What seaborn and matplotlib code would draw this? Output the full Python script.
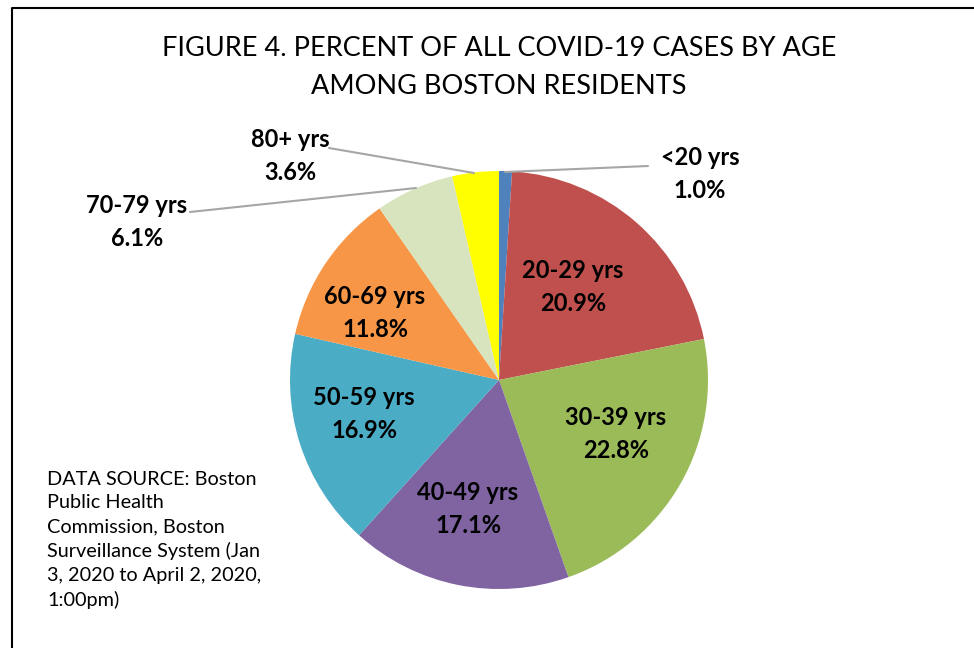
import matplotlib.pyplot as plt
import seaborn as sns

# Data
age_groups = ['<20 yrs', '20-29 yrs', '30-39 yrs', '40-49 yrs',
              '50-59 yrs', '60-69 yrs', '70-79 yrs', '80+ yrs']
percents = [1.0, 20.9, 22.8, 17.1, 16.9, 11.8, 6.1, 3.6]
colors = ['#4F81BD', '#C0504D', '#9BBB59', '#8064A2',
          '#4BACC6', '#F79646', '#D7E4BD', '#FFFF00']

sns.set_theme(style='white')
plt.rcParams['font.family'] = ['Lato', 'DejaVu Sans']

W, H = 974, 648
fig = plt.figure(figsize=(9.74, 6.48), dpi=100)
ax = fig.add_axes([0, 0, 1, 1])

# frame around the chart area
ax.plot([12, 12, W + 5], [H + 5, 8, 8], color='black', lw=1.5)

cx, cy, r = 499, 380, 209
# y axis is flipped below: start at -90 (screen top), counterclock in data = clockwise on screen
wedges, _ = ax.pie(percents, colors=colors, startangle=-90, counterclock=True,
                   center=(cx, cy), radius=r, frame=True,
                   wedgeprops={'linewidth': 0})
ax.set_xlim(0, W)
ax.set_ylim(H, 0)
ax.set_aspect('equal')
ax.axis('off')

# labels inside the pie
inside = {
    '20-29 yrs': (573, 287),
    '30-39 yrs': (616, 434),
    '40-49 yrs': (468, 509),
    '50-59 yrs': (364, 414),
    '60-69 yrs': (375, 313),
}
# outside labels with leader lines: text pos, line start, line end
outside = {
    '<20 yrs': ((700, 174), (648, 166), (505, 172)),
    '80+ yrs': ((290, 156), (329, 148), (474, 173)),
    '70-79 yrs': ((137, 222), (190, 212), (416, 188)),
}
for name, pct in zip(age_groups, percents):
    txt = f'{name}\n{pct:.1f}%'
    if name in inside:
        x, y = inside[name]
    else:
        (x, y), p0, p1 = outside[name]
        ax.plot([p0[0], p1[0]], [p0[1], p1[1]], color='#A6A6A6', lw=1.5)
    ax.text(x, y, txt, ha='center', va='center', fontsize=17,
            fontweight='bold', color='black', linespacing=1.5)

ax.text(499, 68, 'FIGURE 4. PERCENT OF ALL COVID-19 CASES BY AGE\nAMONG BOSTON RESIDENTS',
        ha='center', va='center', fontsize=19.5, color='black', linespacing=1.65)

ax.text(47, 540, 'DATA SOURCE: Boston\nPublic Health\nCommission, Boston\n'
        'Surveillance System (Jan\n3, 2020 to April 2, 2020,\n1:00pm)',
        ha='left', va='center', fontsize=14.3, color='black', linespacing=1.48)

fig.savefig('out.png', dpi=100)
